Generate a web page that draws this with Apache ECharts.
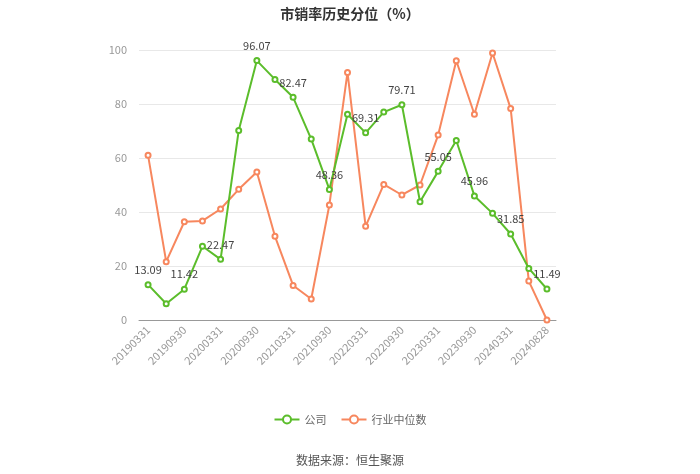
<!DOCTYPE html>
<html><head><meta charset="utf-8">
<script src="https://cdn.jsdelivr.net/npm/echarts@6/dist/echarts.min.js"></script>
<style>html,body{margin:0;padding:0;background:#fff}#c{width:700px;height:474px}</style>
</head><body><div id="c"></div>
<script>
var categories = ['20190331','20190630','20190930','20191231','20200331','20200630','20200930','20201231','20210331','20210630','20210930','20211231','20220331','20220630','20220930','20221231','20230331','20230630','20230930','20231231','20240331','20240630','20240828'];
var companyValues = [13.09,6.0,11.42,27.3,22.47,70.2,96.07,89.1,82.47,67.0,48.36,76.2,69.31,77.0,79.71,43.8,55.05,66.5,45.96,39.5,31.85,19.1,11.49];
var industryValues = [61.0,21.6,36.4,36.7,41.1,48.4,54.8,31.0,12.8,7.8,42.6,91.7,34.7,50.2,46.3,50.0,68.5,96.0,76.2,98.9,78.3,14.4,0.0];
var yTicks = [0,20,40,60,80,100];
var seriesNames = ['公司','行业中位数'];
var titleText = '市销率历史分位（%）';
var sourceText = '数据来源：恒生聚源';

var font = '"Noto Sans CJK SC", "Noto Sans", sans-serif';
var chart = echarts.init(document.getElementById('c'), null, {renderer:'canvas'});
chart.setOption({
  animation:false,
  backgroundColor:'#fff',
  textStyle:{fontFamily:font},
  title:[{text:titleText,left:'center',top:2,textStyle:{fontSize:14,fontWeight:'bold',color:'#333',fontFamily:font}},
         {text:sourceText,left:'center',top:449,textStyle:{fontSize:12,fontWeight:'normal',color:'#555',fontFamily:font}}],
  legend:{top:409,left:'center',itemWidth:25,itemHeight:10,itemGap:14,
    textStyle:{fontSize:11,color:'#666',fontFamily:font},
    data:[seriesNames[0],seriesNames[1]]},
  grid:{left:139,right:144,top:50,bottom:154},
  xAxis:{type:'category',data:categories,boundaryGap:true,
    axisLine:{lineStyle:{color:'#999'}},
    axisTick:{alignWithLabel:true,interval:1,lineStyle:{color:'#999'}},
    axisLabel:{interval:1,rotate:45,color:'#999',fontSize:11,fontFamily:font,margin:8}},
  yAxis:{type:'value',min:yTicks[0],max:yTicks[yTicks.length-1],interval:20,
    axisLine:{show:false},axisTick:{show:false},
    axisLabel:{color:'#999',fontSize:11,fontFamily:font,margin:12},
    splitLine:{lineStyle:{color:'#e8e8e8'}}},
  series:[
    {name:seriesNames[0],type:'line',data:companyValues,symbol:'emptyCircle',symbolSize:5,
     itemStyle:{color:'#5bbd2b'},lineStyle:{width:2,color:'#5bbd2b'},z:3,
     label:{show:true,position:'top',color:'#444',fontSize:11,fontFamily:font,distance:6,
       formatter:function(p){return p.dataIndex%2===0?p.value.toFixed(2):'';}}},
    {name:seriesNames[1],type:'line',data:industryValues,symbol:'emptyCircle',symbolSize:5,
     itemStyle:{color:'#f7875e'},lineStyle:{width:2,color:'#f7875e'},z:2}
  ]
});
</script></body></html>
